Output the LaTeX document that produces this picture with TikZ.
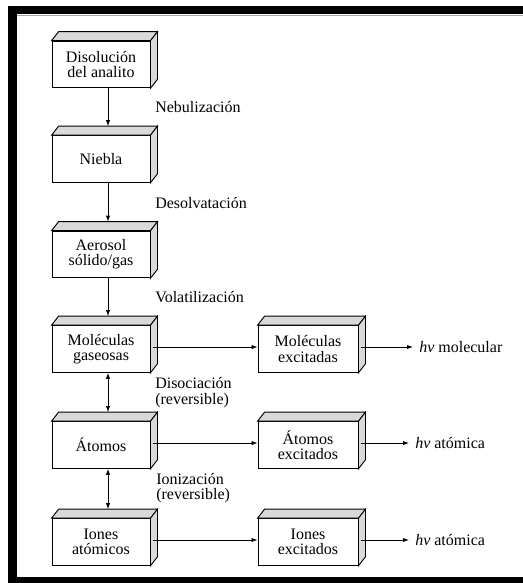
\documentclass[tikz,border=0pt]{standalone}
\usepackage{fontspec}
\setmainfont{Liberation Serif}
\usetikzlibrary{arrows.meta}

\begin{document}
\begin{tikzpicture}[x=0.75pt,y=-0.75pt,
  caja/.style={draw,line width=0.7pt,fill=white,minimum width=73.5pt,minimum height=35pt,
    align=center,inner sep=1pt,font=\fontsize{12}{11.5}\selectfont},
  cajad/.style={caja,minimum width=75pt},
  cara/.style={draw,line width=0.7pt,fill=black!15},
  etiq/.style={align=left,inner sep=0pt,anchor=west,font=\fontsize{12}{11.5}\selectfont},
  flecha/.style={line width=0.6pt,-{Latex[length=4.5pt,width=3.2pt]}},
  dflecha/.style={line width=0.6pt,{Latex[length=4.5pt,width=3.2pt]}-{Latex[length=4.5pt,width=3.2pt]}}]
\useasboundingbox (0,0) rectangle (523,583);
\fill[black] (8,6) rectangle (523,14);
\fill[black] (8,6) rectangle (17,583);
\fill[black] (8,577) rectangle (523,583);
\draw[black!35,line width=0.4pt] (17,15) -- (523,15);

\node[caja] (disol) at (101,64.5) {Disolución\\del analito};
\node[caja] (niebla) at (101,159) {Niebla};
\node[caja] (aeros) at (101,254.5) {Aerosol\\sólido/gas};
\node[caja] (molec) at (101,349) {Moléculas\\gaseosas};
\node[caja] (atom) at (101,445) {Átomos};
\node[caja] (iones) at (101,542) {Iones\\atómicos};
\node[cajad] (molecx) at (308,349) {Moléculas\\excitadas};
\node[cajad] (atomx) at (308,445) {Átomos\\excitados};
\node[cajad] (ionesx) at (308,542) {Iones\\excitados};

\foreach \n in {disol,niebla,aeros,molec,atom,iones,molecx,atomx,ionesx}{
  \filldraw[cara] (\n.north west) -- ++(7,-9) -- ([shift={(7,-9)}]\n.north east) -- (\n.north east) -- cycle;
  \filldraw[cara] (\n.north east) -- ([shift={(7,-9)}]\n.north east) -- ([shift={(7,-9)}]\n.south east) -- (\n.south east) -- cycle;
}

\node[etiq] (nebul) at (155,107) {Nebulización};
\node[etiq] (desolv) at (155,203) {Desolvatación};
\node[etiq] (volat) at (155,297) {Volatilización};
\node[etiq] (disoc) at (155,392.5) {Disociación\\(reversible)};
\node[etiq] (ioniz) at (156,488) {Ionización\\(reversible)};
\node[etiq] (hvmol) at (419,347) {\textit{hν} molecular};
\node[etiq] (hvat) at (415,443) {\textit{hν} atómica};
\node[etiq] (hvion) at (415,540) {\textit{hν} atómica};

\draw[flecha] ([shift={(7,0)}]disol.south) -- ([shift={(7,-9)}]niebla.north);
\draw[flecha] ([shift={(7,0)}]niebla.south) -- ([shift={(7,-9)}]aeros.north);
\draw[flecha] ([shift={(7,0)}]aeros.south) -- ([shift={(7,-9)}]molec.north);
\draw[dflecha] ([shift={(7,0)}]molec.south) -- ([shift={(7,-9)}]atom.north);
\draw[dflecha] ([shift={(7,0)}]atom.south) -- ([shift={(7,-9)}]iones.north);

\draw[flecha] ([shift={(3,-2)}]molec.east) -- ([shift={(0,-2)}]molecx.west);
\draw[flecha] ([shift={(3,-2)}]atom.east) -- ([shift={(0,-2)}]atomx.west);
\draw[flecha] ([shift={(3,-2)}]iones.east) -- ([shift={(0,-2)}]ionesx.west);
\draw[flecha] ([shift={(3,-2)}]molecx.east) -- ([shift={(-6,0)}]hvmol.west);
\draw[flecha] ([shift={(3,-2)}]atomx.east) -- ([shift={(-6,0)}]hvat.west);
\draw[flecha] ([shift={(3,-2)}]ionesx.east) -- ([shift={(-6,0)}]hvion.west);
\end{tikzpicture}
\end{document}
